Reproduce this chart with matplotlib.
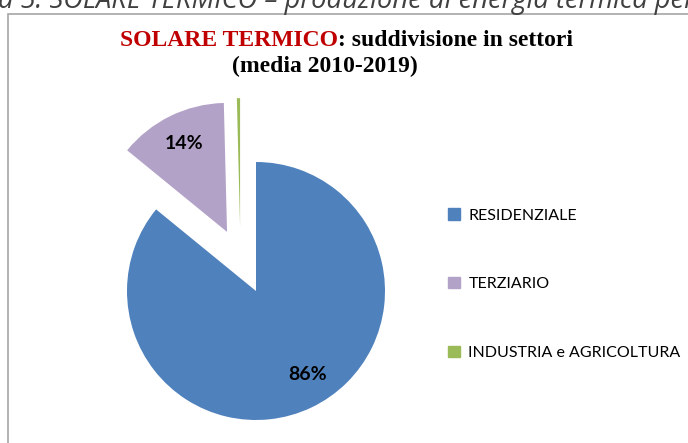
import numpy as np
import matplotlib.pyplot as plt
from matplotlib.patches import Rectangle

# data (media 2010-2019)
settori = ['RESIDENZIALE', 'TERZIARIO', 'INDUSTRIA e AGRICOLTURA']
quote = [85.9, 13.7, 0.4]
colori = ['#4f81bd', '#b3a2c7', '#9bbb59']
esplodi = [0, 0.51, 0.51]

W, H = 688, 443
fig = plt.figure(figsize=(W / 100, H / 100), dpi=100)

# chart border (only left/top visible in the crop)
fig.patches.append(Rectangle((8 / W, -0.1), 1.2, (H - 14) / H + 0.1,
                             transform=fig.transFigure, fill=False,
                             edgecolor='#a6a6a6', lw=1.2))

# caption cut at the top of the picture
fig.text(-2 / W, 1 - 8 / H, 'a 5. SOLARE TERMICO \u2013 produzione di energia termica per',
         fontsize=19.6, style='italic', family='Open Sans', color='#404040',
         ha='left', va='baseline')

# title
fig.text(338 / W, 1 - 40 / H, 'SOLARE TERMICO', color='#c00000', fontsize=17,
         fontweight='bold', family='Liberation Serif', ha='right', va='center')
fig.text(338 / W, 1 - 40 / H, ': suddivisione in settori', color='black', fontsize=17,
         fontweight='bold', family='Liberation Serif', ha='left', va='center')
fig.text(325 / W, 1 - 66 / H, '(media 2010-2019)', color='black', fontsize=17,
         fontweight='bold', family='Liberation Serif', ha='center', va='center')

# pie: centre ~ (256, 291) px, radius ~129 px
ax = fig.add_axes([0, 0, 1, 1])
cx, cy, r = 256, 291, 129


def pct(v):
    return '%.0f%%' % v if v > 1 else ''


wedges, texts, autotexts = ax.pie(quote, colors=colori, explode=esplodi, startangle=90,
                                  counterclock=False, autopct=pct, pctdistance=0.76,
                                  wedgeprops=dict(linewidth=0),
                                  textprops=dict(fontsize=14, fontweight='bold',
                                                 family='Lato', color='black'))
# Excel pushes the tiny slice out a bit to the left
a = np.deg2rad(104)
wedges[2].set_center((esplodi[2] * np.cos(a), esplodi[2] * np.sin(a)))
# Excel label spot for the big slice
a = np.deg2rad(-58)
autotexts[0].set_position((0.76 * np.cos(a), 0.76 * np.sin(a)))

ax.set_xlim(-cx / r, (W - cx) / r)
ax.set_ylim(-(H - cy) / r, cy / r)
ax.set_aspect('auto')
ax.axis('off')

# legend
handles = [Rectangle((0, 0), 1, 1, color=c) for c in colori]
fig.legend(handles, settori, loc='upper left', bbox_to_anchor=(434 / W, 1 - 194 / H),
           frameon=False, prop=dict(family='Lato', size=11.5),
           handlelength=0.7, handleheight=0.7, handletextpad=0.55, labelspacing=3.42)

fig.savefig('out.png', dpi=100)
